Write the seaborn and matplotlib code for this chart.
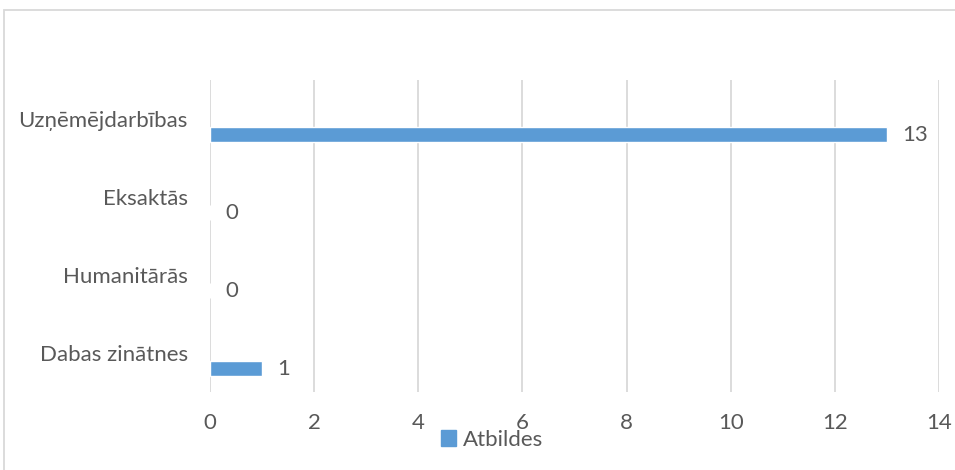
import numpy as np
import matplotlib
matplotlib.use('Agg')
import matplotlib.pyplot as plt
import seaborn as sns
from matplotlib.patches import Rectangle

# chart data
categories = ['Uzņēmējdarbības', 'Eksaktās', 'Humanitārās', 'Dabas zinātnes']
answers = [13, 0, 0, 1]
series_name = 'Atbildes'
x_ticks = [0, 2, 4, 6, 8, 10, 12, 14]

bar_color = '#5B9BD5'
text_color = '#595959'
grid_color = '#D9D9D9'

sns.set_style('white')
plt.rcParams['font.family'] = ['Lato', 'DejaVu Sans']
fs = 16

fig = plt.figure(figsize=(9.55, 4.7), dpi=100)
ax = fig.add_axes([210 / 955, 1 - 392 / 470, (939 - 210) / 955, (392 - 80) / 470])

sns.barplot(x=answers, y=categories, orient='h', width=0.2, color=bar_color,
            saturation=1, ax=ax)

# Excel places the bar a bit below the category label
ax.set_yticks(np.arange(len(categories)) - 0.2, categories)
ax.set_ylim(len(categories) - 0.7, -0.7)
ax.set_xlim(0, 14)
ax.set_xticks(x_ticks)
ax.set_xlabel('')
ax.set_ylabel('')

ax.grid(axis='x', color=grid_color, linewidth=1.3)
ax.grid(axis='y', visible=False)
ax.set_axisbelow(True)
for s in ax.spines.values():
    s.set_visible(False)
ax.tick_params(axis='both', length=0, labelsize=fs, colors=text_color)
ax.tick_params(axis='x', pad=15)
ax.tick_params(axis='y', pad=16)

ax.bar_label(ax.containers[0], labels=[str(v) for v in answers], padding=11,
             fontsize=fs, color=text_color)

# legend below, overlapping the tick labels like in the original
handle = Rectangle((0, 0), 1, 1, color=bar_color)
fig.legend([handle], [series_name], loc='center', bbox_to_anchor=(0.515, 0.064),
           frameon=False, fontsize=fs, labelcolor=text_color,
           handlelength=0.7, handleheight=0.7, handletextpad=0.3)

# chart frame
fig.patches.append(Rectangle((4 / 955, -0.05), 1.1, 1 - 10 / 470 + 0.05,
                             transform=fig.transFigure, fill=False,
                             edgecolor=grid_color, linewidth=1.3))

fig.savefig('out.png', dpi=100)
